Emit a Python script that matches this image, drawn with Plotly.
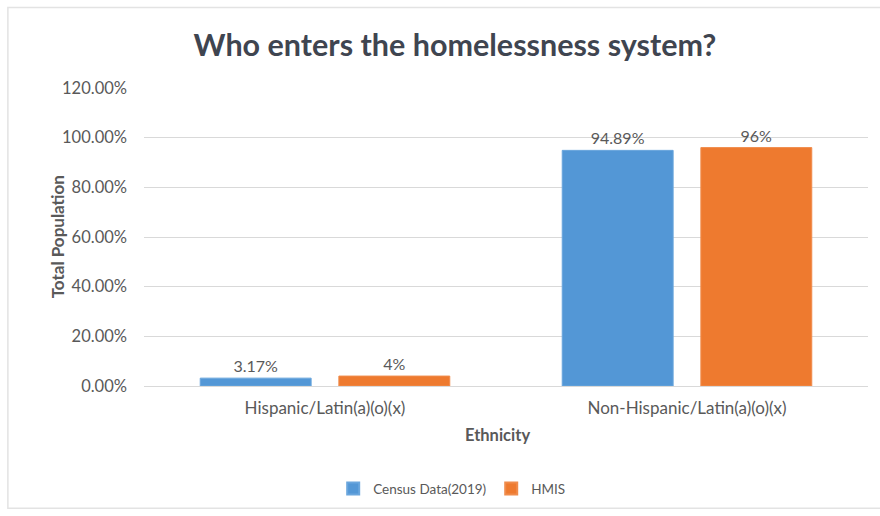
import plotly.graph_objects as go

categories = ["Hispanic/Latin(a)(o)(x)", "Non-Hispanic/Latin(a)(o)(x)"]
census_values = [3.17, 94.89]
hmis_values = [4, 96]
census_labels = ["3.17%", "94.89%"]
hmis_labels = ["4%", "96%"]
y_ticks = [0, 20, 40, 60, 80, 100, 120]
y_tick_text = ["0.00%", "20.00%", "40.00%", "60.00%", "80.00%", "100.00%", "120.00%"]

FONT = "Lato"
GRAY = "#595959"

fig = go.Figure()
fig.add_trace(go.Bar(
    x=categories, y=census_values, name="Census Data(2019)",
    marker=dict(color="#5397d6", line=dict(color="#6aa6dd", width=1)),
    text=census_labels, textposition="outside",
    textfont=dict(family=FONT, size=16, color=GRAY),
    cliponaxis=False,
))
fig.add_trace(go.Bar(
    x=categories, y=hmis_values, name="HMIS",
    marker=dict(color="#ee7a2f", line=dict(color="#f08c4c", width=1)),
    text=hmis_labels, textposition="outside",
    textfont=dict(family=FONT, size=16, color=GRAY),
    cliponaxis=False,
))

fig.update_layout(
    width=880, height=516,
    margin=dict(l=144, r=12, t=88, b=128),
    paper_bgcolor="white", plot_bgcolor="white",
    barmode="group", bargap=0.234, bargroupgap=0.2,
    font=dict(family=FONT, color=GRAY, size=13),
    title=dict(
        text="<b>Who enters the homelessness system?</b>",
        x=0.517, xanchor="center", y=0.913, yanchor="middle",
        font=dict(family=FONT, size=30.5, color="#3f4550"),
    ),
    showlegend=True,
    legend=dict(
        orientation="h", x=0.425, xanchor="center", y=-0.345, yanchor="middle",
        font=dict(family=FONT, size=13.5, color=GRAY),
        itemwidth=30, traceorder="normal", itemsizing="constant",
    ),
)

fig.update_yaxes(
    range=[0, 120], tickvals=y_ticks, ticktext=y_tick_text,
    showgrid=True, gridcolor="#d9d9d9", gridwidth=1,
    zeroline=True, zerolinecolor="#d9d9d9", zerolinewidth=1,
    showline=False, ticks="", ticklabelstandoff=16,
    tickfont=dict(family=FONT, size=16.5, color=GRAY),
    fixedrange=True, automargin=False,
)
fig.update_xaxes(
    showline=False, ticks="", ticklabelstandoff=10,
    tickfont=dict(family=FONT, size=17, color=GRAY),
    automargin=False,
)

# axis titles
fig.add_annotation(
    text="<b>Total Population</b>", xref="paper", yref="paper",
    x=-0.137, y=0.5, textangle=-90, showarrow=False,
    font=dict(family=FONT, size=17, color=GRAY),
)
fig.add_annotation(
    text="<b>Ethnicity</b>", xref="paper", yref="paper",
    x=0.488, y=-0.163, yanchor="middle", showarrow=False,
    font=dict(family=FONT, size=16.5, color=GRAY),
)

# chart frame
fig.add_shape(
    type="rect", xref="paper", yref="paper",
    x0=-0.188, x1=1.03, y0=-0.41, y1=1.27,
    line=dict(color="#e3e3e3", width=1.5), layer="below",
)

fig.write_html("out.html")
